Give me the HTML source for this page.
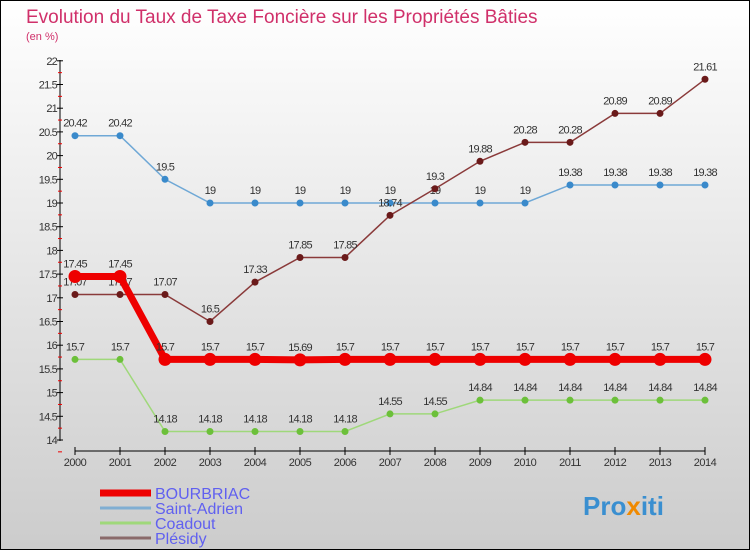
<!DOCTYPE html>
<html><head><meta charset="utf-8"><style>
body{margin:0;width:750px;height:550px;overflow:hidden;font-family:"Liberation Sans",sans-serif}
svg{display:block}
</style></head><body>
<svg id="c" width="750" height="550" xmlns="http://www.w3.org/2000/svg">
<defs><linearGradient id="bg" x1="0" y1="0" x2="0" y2="1"><stop offset="0" stop-color="#ffffff"/><stop offset="1" stop-color="#cccccc"/></linearGradient></defs>
<rect x="0.5" y="0.5" width="749" height="549" fill="url(#bg)" stroke="#000"/>
<text x="26" y="23" font-size="19" fill="#d0306a">Evolution du Taux de Taxe Foncière sur les Propriétés Bâties</text>
<text x="26" y="40" font-size="11" fill="#d0306a">(en %)</text>
<g id="axes"></g><g id="series"></g><g id="legend"></g>
<text x="583" y="515" font-size="26" font-weight="bold" fill="#3a8fd0">Pro<tspan fill="#f08a00">x</tspan>iti</text>
</svg>
<script>
const years=[2000,2001,2002,2003,2004,2005,2006,2007,2008,2009,2010,2011,2012,2013,2014];
const bourbriac=[17.45,17.45,15.7,15.7,15.7,15.69,15.7,15.7,15.7,15.7,15.7,15.7,15.7,15.7,15.7];
const saintAdrien=[20.42,20.42,19.5,19,19,19,19,19,19,19,19,19.38,19.38,19.38,19.38];
const coadout=[15.7,15.7,14.18,14.18,14.18,14.18,14.18,14.55,14.55,14.84,14.84,14.84,14.84,14.84,14.84];
const plesidy=[17.07,17.07,17.07,16.5,17.33,17.85,17.85,18.74,19.3,19.88,20.28,20.28,20.89,20.89,21.61];
const yTicks=[14,14.5,15,15.5,16,16.5,17,17.5,18,18.5,19,19.5,20,20.5,21,21.5,22];
const NS="http://www.w3.org/2000/svg";
const xs=i=>75+i*45, ys=v=>440-(v-14)*47.4;
function mk(t,a,p){const e=document.createElementNS(NS,t);for(const k in a)e.setAttribute(k,a[k]);p.appendChild(e);return e;}
const ax=document.getElementById('axes');
let l=mk('line',{x1:60,y1:60,x2:60,y2:441,stroke:'#000'},ax);


yTicks.forEach(v=>{const y=ys(v);
 mk('line',{x1:57,y1:y,x2:63,y2:y,stroke:'#000'},ax);
 mk('line',{x1:58,y1:y+11.85,x2:62,y2:y+11.85,stroke:'#e00'},ax);
 const t=mk('text',{x:57,y:y+4,'font-size':11,'text-anchor':'end',fill:'#333','letter-spacing':'-0.8'},ax);t.textContent=v;
 
 
});
l=mk('line',{x1:75,y1:451,x2:705,y2:451,stroke:'#000'},ax);


years.forEach((yr,i)=>{mk('line',{x1:xs(i),y1:447,x2:xs(i),y2:455,stroke:'#000'},ax);
 const t=mk('text',{x:xs(i),y:466,'font-size':11,'text-anchor':'middle',fill:'#333','letter-spacing':'-0.5'},ax);t.textContent=yr;
 
 
});
const S=document.getElementById('series');
function series(data,name,color,dot,w,r){
 const g=mk('g',{},S);
 
 
 const p=mk('polyline',{points:data.map((v,i)=>xs(i)+','+ys(v)).join(' '),fill:'none',stroke:color,'stroke-width':w},g);
 
 
 data.forEach((v,i)=>{const c=mk('circle',{cx:xs(i),cy:ys(v),r:r,fill:dot},g);
  
  
  const t=mk('text',{x:xs(i),y:ys(v)-9,'font-size':11,'text-anchor':'middle',fill:'#333','letter-spacing':'-0.8'},g);t.textContent=v;
  
  
 });
}
series(saintAdrien,'saint-adrien','#6fa8d6','#3a8acb',1.5,3.5);
series(coadout,'coadout','#9fd87a','#6cc03a',1.5,3.5);
series(plesidy,'plesidy','#8a3a3a','#6a1a1a',1.5,3.5);
series(bourbriac,'bourbriac','#ee0000','#ee0000',7,6.5);
const L=document.getElementById('legend');
[['BOURBRIAC','#ee0000',7],['Saint-Adrien','#80aed2',3],['Coadout','#9fd87a',3],['Plésidy','#8a6a6a',3]].forEach((d,i)=>{
 const y=493+i*15;
 const g=mk('g',{},L);
 
 
 mk('line',{x1:100,y1:y,x2:151,y2:y,stroke:d[1],'stroke-width':d[2]},g);
 const t=mk('text',{x:155,y:y+6,'font-size':16,fill:'#6060f0'},g);t.textContent=d[0];
});
</script>
</body></html>
